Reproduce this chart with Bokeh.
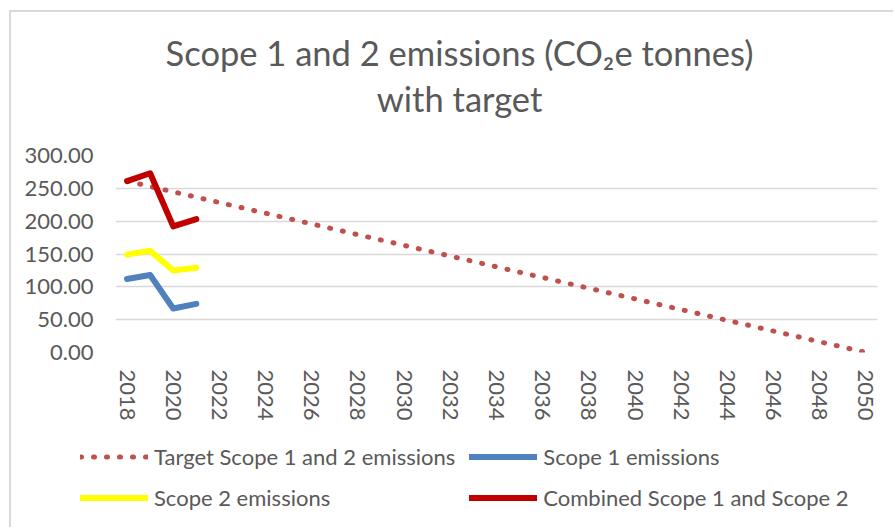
import math
from bokeh.plotting import figure
from bokeh.layouts import column
from bokeh.models import (Range1d, FixedTicker, NumeralTickFormatter, Legend,
                          LegendItem, Label)
from bokeh.embed import file_html
from bokeh.resources import INLINE

# ---------------- data ----------------
years_actual = [2018, 2019, 2020, 2021]
scope1 = [112, 118, 67, 74]
scope2 = [149, 155, 125, 129]
combined = [261, 273, 192, 203]

target_years = [2018, 2019, 2020, 2021, 2022, 2023, 2024, 2025, 2026, 2027,
                2028, 2029, 2030, 2031, 2032, 2033, 2034, 2035, 2036, 2037,
                2038, 2039, 2040, 2041, 2042, 2043, 2044, 2045, 2046, 2047,
                2048, 2049, 2050]
target = [261.0, 252.8, 244.7, 236.5, 228.4, 220.2, 212.1, 203.9, 195.8, 187.6,
          179.4, 171.3, 163.1, 155.0, 146.8, 138.7, 130.5, 122.3, 114.2, 106.0,
          97.9, 89.7, 81.6, 73.4, 65.3, 57.1, 48.9, 40.8, 32.6, 24.5,
          16.3, 8.2, 0.0]

x_ticks = [2018, 2020, 2022, 2024, 2026, 2028, 2030, 2032, 2034, 2036, 2038,
           2040, 2042, 2044, 2046, 2048, 2050]
y_ticks = [0, 50, 100, 150, 200, 250, 300]

title_line1 = "Scope 1 and 2 emissions (CO\u2082e tonnes)"
title_line2 = "with target"
series_names = ["Target Scope 1 and 2 emissions", "Scope 1 emissions",
                "Scope 2 emissions", "Combined Scope 1 and Scope 2"]
series_colors = ["#c0504d", "#4f81bd", "#ffff00", "#c00000"]

FONT = "Lato"
GREY = "#595959"
W = 882

# ---------------- title strip (frame aligned with the chart's frame) ----------------
p_title = figure(width=W, height=120, output_backend="svg", toolbar_location=None,
                 x_axis_location=None, y_axis_location=None,
                 x_range=Range1d(0, 762), y_range=Range1d(0, 120),
                 min_border_left=0, min_border_right=0,
                 min_border_top=0, min_border_bottom=0)
p_title.title = None
p_title.outline_line_color = None
p_title.grid.visible = False
for txt, ty in ((title_line1, 80), (title_line2, 34)):
    p_title.add_layout(Label(x=344, y=ty, text=txt, text_align="center",
                             text_baseline="alphabetic", text_font=FONT,
                             text_font_size="34.5px", text_color=GREY))

# ---------------- main chart ----------------
p = figure(width=W, height=292, output_backend="svg", toolbar_location=None,
           x_range=Range1d(2017.5, 2050.5), y_range=Range1d(0, 300),
           min_border_left=104, min_border_right=16,
           min_border_top=23, min_border_bottom=72)
p.outline_line_color = None
p.background_fill_color = "white"
p.border_fill_color = "white"

p.xgrid.visible = False
p.ygrid.grid_line_color = "#d9d9d9"
p.ygrid.grid_line_width = 1.5

p.yaxis.ticker = FixedTicker(ticks=y_ticks)
p.yaxis.formatter = NumeralTickFormatter(format="0.00")
p.yaxis.axis_line_color = None
p.yaxis.major_tick_line_color = None
p.yaxis.minor_tick_line_color = None
p.yaxis.major_tick_out = 0
p.yaxis.major_tick_in = 0
p.yaxis.major_label_standoff = 22
p.yaxis.major_label_text_font = FONT
p.yaxis.major_label_text_font_size = "22px"
p.yaxis.major_label_text_color = GREY

p.xaxis.ticker = FixedTicker(ticks=x_ticks)
p.xaxis.axis_line_color = None
p.xaxis.major_tick_line_color = None
p.xaxis.minor_tick_line_color = None
p.xaxis.major_tick_out = 0
p.xaxis.major_tick_in = 0
p.xaxis.major_label_standoff = 17
p.xaxis.major_label_orientation = -math.pi / 2
p.xaxis.major_label_text_font = FONT
p.xaxis.major_label_text_font_size = "22px"
p.xaxis.major_label_text_color = GREY

p.line(target_years, target, line_color=series_colors[0], line_width=5,
       line_dash="1 12", line_cap="round")
p.line(years_actual, scope1, line_color=series_colors[1], line_width=6,
       line_cap="round", line_join="round")
p.line(years_actual, scope2, line_color=series_colors[2], line_width=6,
       line_cap="round", line_join="round")
p.line(years_actual, combined, line_color=series_colors[3], line_width=6,
       line_cap="round", line_join="round")

top = column(p_title, p, spacing=0)
top.styles = {"margin-left": "9px", "margin-top": "10px",
              "border-left": "2px solid #d9d9d9",
              "border-top": "2px solid #d9d9d9"}

# ---------------- legend strip (separate root, full-width frame) ----------------
p_leg = figure(width=W, height=103, output_backend="svg", toolbar_location=None,
               x_axis_location=None, y_axis_location=None,
               x_range=Range1d(0, 1), y_range=Range1d(0, 1),
               min_border_left=0, min_border_right=0,
               min_border_top=0, min_border_bottom=0)
p_leg.outline_line_color = None
p_leg.grid.visible = False
p_leg.styles = {"margin-left": "9px", "border-left": "2px solid #d9d9d9"}
nan = float("nan")
k_target = p_leg.line(x=[nan], y=[nan], line_color=series_colors[0], line_width=5,
                      line_dash="1 12", line_cap="round")
k_s1 = p_leg.line(x=[nan], y=[nan], line_color=series_colors[1], line_width=6,
                  line_cap="round")
k_s2 = p_leg.line(x=[nan], y=[nan], line_color=series_colors[2], line_width=6,
                  line_cap="round")
k_comb = p_leg.line(x=[nan], y=[nan], line_color=series_colors[3], line_width=6,
                    line_cap="round")

legend = Legend(
    items=[LegendItem(label=series_names[0], renderers=[k_target]),
           LegendItem(label=series_names[1], renderers=[k_s1]),
           LegendItem(label=series_names[2], renderers=[k_s2]),
           LegendItem(label=series_names[3], renderers=[k_comb])],
    orientation="horizontal", ncols=2,
    location=(69, 16),
    glyph_width=68, glyph_height=27, label_height=27, label_standoff=6,
    spacing=14, padding=0, margin=0,
    label_text_font=FONT, label_text_font_size="22px", label_text_color=GREY,
    border_line_color=None, background_fill_alpha=0,
)
p_leg.add_layout(legend, "center")

open("out.html", "w").write(file_html([top, p_leg], INLINE))
